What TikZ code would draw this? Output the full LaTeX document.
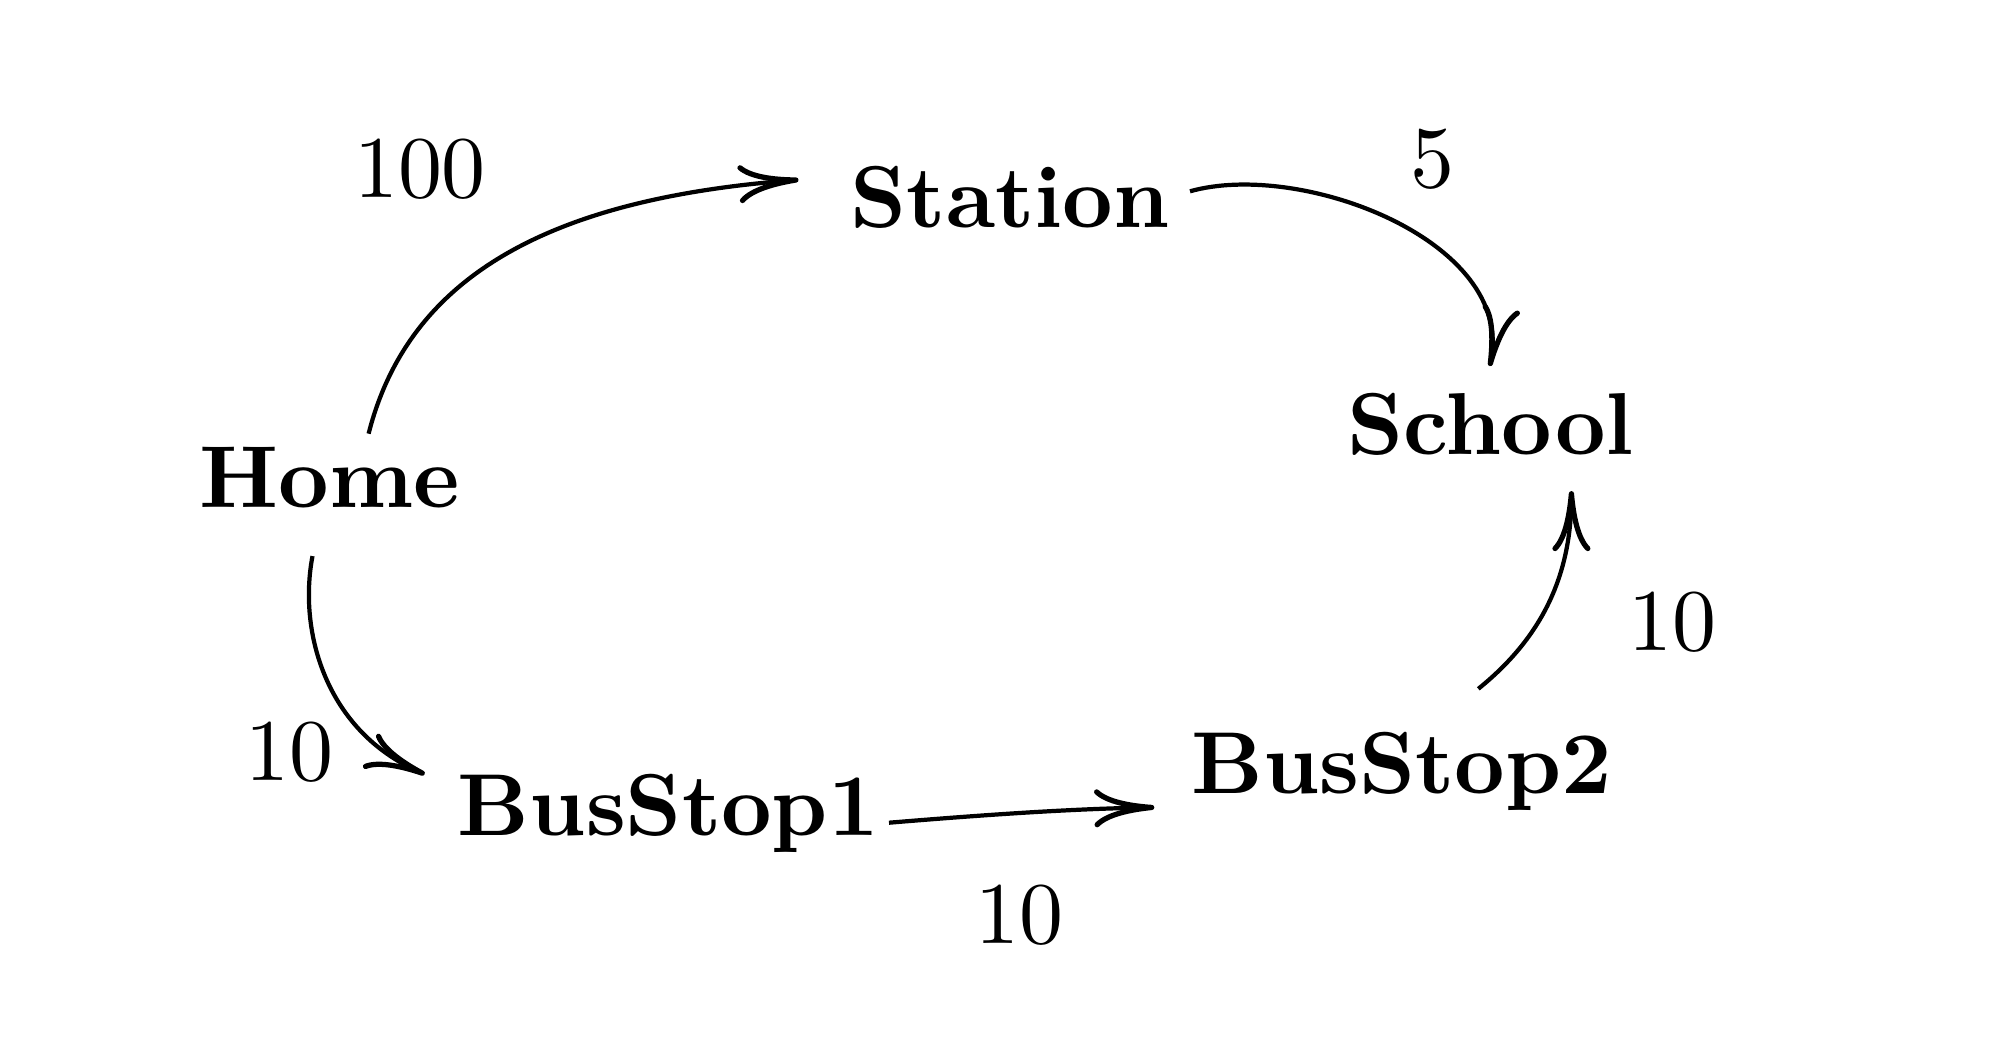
\documentclass[tikz,border=0pt]{standalone}
\usetikzlibrary{arrows.meta}
\begin{document}
\begin{tikzpicture}[x=0.01cm,y=-0.01cm,
  place/.style={font=\normalsize\bfseries, inner sep=0pt, anchor=base, transform shape, scale=2.5},
  wlabel/.style={font=\normalsize, inner sep=0pt, anchor=base, transform shape, scale=2.5},
  conn/.style={line width=1.2pt, -{Computer Modern Rightarrow[length=6mm,width=3.8mm,line width=1.5pt]}}]
\useasboundingbox (0,0) rectangle (2000,1051);
\node[place] (home) at (329.7,507.6) {Home};
\node[place] (station) at (1010,227) {Station};
\node[place] (school) at (1490.4,454.1) {School};
\node[place] (bs1) at (668.3,835.5) {BusStop1};
\node[place] (bs2) at (1401.8,793.4) {BusStop2};
\node[wlabel] (l1) at (420,197.7) {100};
\node[wlabel] (l2) at (1432,187.5) {5};
\node[wlabel] (l3) at (289,780.6) {10};
\node[wlabel] (l4) at (1019,943.9) {10};
\node[wlabel] (l5) at (1672,650.5) {10};
\draw[conn] ([shift={(38.9,-73.9)}]home.base) .. controls (410,270) and (560,198) .. ([shift={(-211.5,-47.2)}]station.base);
\draw[conn] ([shift={(180,-35.7)}]station.base) .. controls (1301,160) and (1515.3,241.1) .. ([shift={(-0.6,-88)}]school.base);
\draw[conn] ([shift={(-17.2,48.5)}]home.base) .. controls (298,631.9) and (326,731.4) .. ([shift={(-243.6,-61.3)}]bs1.base);
\draw[conn] ([shift={(220.7,-12.8)}]bs1.base) .. controls (982,815) and (1071.4,808.7) .. ([shift={(-247.5,14)}]bs2.base);
\draw[conn] ([shift={(76.5,-104.6)}]bs2.base) .. controls (1538,640.6) and (1571.4,580.4) .. ([shift={(81,37)}]school.base);
\end{tikzpicture}
\end{document}
